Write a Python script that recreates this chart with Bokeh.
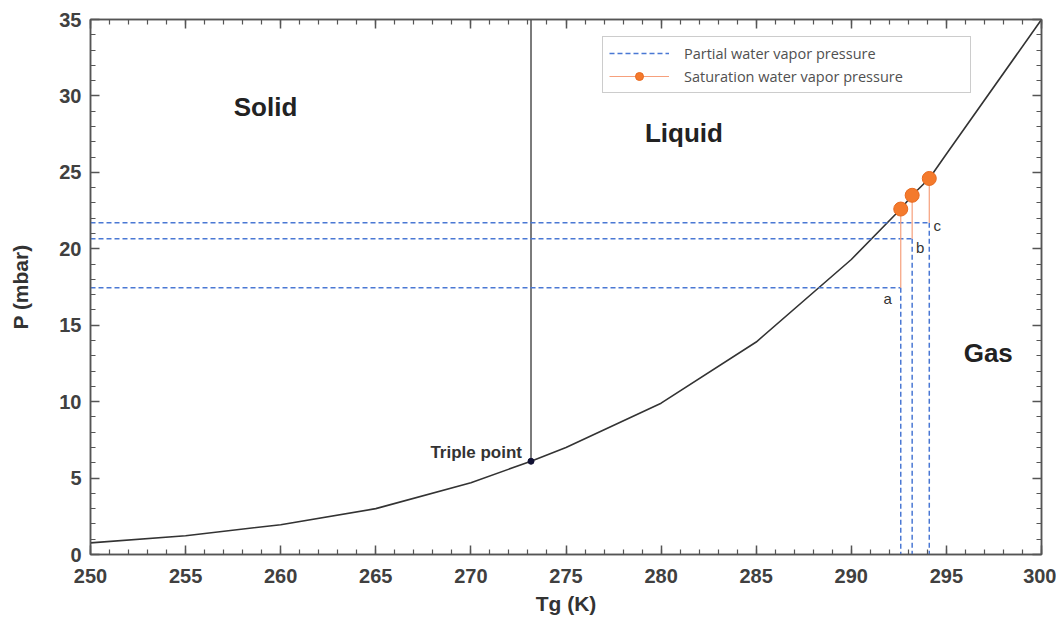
from bokeh.plotting import figure
from bokeh.models import (Range1d, SingleIntervalTicker, LinearAxis, Legend, LegendItem,
                          CustomLabelingPolicy)
from bokeh.core.properties import value
from bokeh.embed import file_html
from bokeh.resources import INLINE

# ---- data ----
X_MIN, X_MAX = 250, 300
Y_MIN, Y_MAX = 0, 35

curve_T = [250, 255, 260, 265, 270, 273.16, 275, 280, 285, 290, 292.6, 293.2, 294.1, 295, 300]
curve_P = [0.76, 1.23, 1.95, 3.0, 4.7, 6.1, 7.0, 9.9, 13.9, 19.3, 22.6, 23.5, 24.6, 26.2, 35.0]

triple_T = 273.16
triple_P = 6.1

case_labels = ["a", "b", "c"]
case_T = [292.6, 293.2, 294.1]
case_Pv = [17.45, 20.65, 21.7]    # partial water vapor pressure
case_Ps = [22.6, 23.5, 24.6]      # saturation water vapor pressure

region_labels = ["Solid", "Liquid", "Gas"]
region_T = [259.2, 281.2, 297.2]
region_P = [29.3, 27.6, 13.2]

FONT = "Liberation Sans"
TXT = "#222222"

p = figure(width=1056, height=621, output_backend="svg", toolbar_location=None,
           x_range=Range1d(X_MIN, X_MAX), y_range=Range1d(Y_MIN, Y_MAX),
           min_border_left=90, min_border_right=15, min_border_top=19, min_border_bottom=67)
p.background_fill_color = "white"
p.border_fill_color = "white"
p.outline_line_color = "#555555"
p.outline_line_width = 1.5
p.xgrid.visible = False
p.ygrid.visible = False

p.xaxis.ticker = SingleIntervalTicker(interval=5, num_minor_ticks=5)
p.yaxis.ticker = SingleIntervalTicker(interval=5, num_minor_ticks=5)

def style_axis(ax, labels=True):
    ax.axis_line_color = "#555555"
    ax.axis_line_width = 1.5
    ax.major_tick_line_color = "#555555"
    ax.minor_tick_line_color = "#555555"
    ax.major_tick_line_width = 1.5
    ax.minor_tick_line_width = 1.2
    ax.major_tick_in = 9
    ax.major_tick_out = 0
    ax.minor_tick_in = 5
    ax.minor_tick_out = 0
    if labels:
        ax.major_label_text_font = FONT
        ax.major_label_text_font_style = "bold"
        ax.major_label_text_font_size = "20px"
        ax.major_label_text_color = "#404040"
        ax.axis_label_text_font = FONT
        ax.axis_label_text_font_style = "bold"
        ax.axis_label_text_font_size = "21px"
        ax.axis_label_text_color = "#333333"
    else:
        ax.major_label_text_font_size = "0px"
        ax.major_label_standoff = 0
        ax.major_label_policy = CustomLabelingPolicy(
            code="const r = indices.clone(); for (const i of indices) { r.unset(i) } return r")

style_axis(p.xaxis[0])
style_axis(p.yaxis[0])
p.xaxis.axis_label = "Tg (K)"
p.yaxis.axis_label = "P (mbar)"
p.xaxis.major_label_standoff = 14
p.xaxis.axis_label_standoff = 6
p.yaxis.major_label_standoff = 9
p.yaxis.axis_label_standoff = 24

top_ax = LinearAxis(ticker=SingleIntervalTicker(interval=5, num_minor_ticks=5))
right_ax = LinearAxis(ticker=SingleIntervalTicker(interval=5, num_minor_ticks=5))
style_axis(top_ax, labels=False)
style_axis(right_ax, labels=False)
p.add_layout(top_ax, "above")
p.add_layout(right_ax, "right")

# saturation curve
p.line(curve_T, curve_P, line_color="#333333", line_width=1.6)
# solid-liquid boundary
p.segment(x0=[triple_T], y0=[triple_P], x1=[triple_T], y1=[Y_MAX],
          line_color="#444444", line_width=1.4)
p.scatter([triple_T], [triple_P], size=6, color="#111133")

# partial pressure dashed lines
BLUE = "#4a78d4"
h = p.segment(x0=[X_MIN] * len(case_T), y0=case_Pv, x1=case_T, y1=case_Pv,
              line_color=BLUE, line_width=1.5, line_dash="5 3")
p.segment(x0=case_T, y0=case_Pv, x1=case_T, y1=[Y_MIN] * len(case_T),
          line_color=BLUE, line_width=1.5, line_dash="5 3")

# saturation markers
ORANGE = "#f47a2c"
o_line = p.segment(x0=case_T, y0=case_Pv, x1=case_T, y1=case_Ps,
                   line_color="#f6a07c", line_width=1.2)
o_pts = p.scatter(case_T, case_Ps, size=14, fill_color=ORANGE, line_color="#e86a20", line_width=1)

# a b c labels
offsets = [(-13, 11), (8, 9), (8, 3)]
for i, lab in enumerate(case_labels):
    p.text([case_T[i]], [case_Pv[i]], text=[lab], text_font=value(FONT),
           text_font_size="15px", text_color="#333333", text_align="center",
           text_baseline="middle", x_offset=offsets[i][0], y_offset=offsets[i][1])

# triple point label
p.text([triple_T], [triple_P], text=["Triple point"], text_font=value(FONT),
       text_font_style="bold", text_font_size="17px", text_color="#333333",
       text_align="right", text_baseline="middle", x_offset=-9, y_offset=-9)

# region labels
p.text(region_T, region_P, text=region_labels, text_font=value(FONT),
       text_font_style="bold", text_font_size="26px", text_color=TXT,
       text_align="center", text_baseline="middle")

legend = Legend(items=[
    LegendItem(label="Partial water vapor pressure", renderers=[h]),
    LegendItem(label="Saturation water vapor pressure", renderers=[o_line, o_pts]),
], location=(512, 461))
legend.label_text_font = "Open Sans"
legend.label_text_font_size = "14.5px"
legend.label_text_color = "#505050"
legend.border_line_color = "#999999"
legend.border_line_width = 1
legend.background_fill_color = "white"
legend.padding = 6
legend.margin = 0
legend.spacing = 3
legend.glyph_width = 60
legend.glyph_height = 20
legend.label_standoff = 15
legend.label_width = 280
legend.label_height = 20
p.add_layout(legend, "center")

open("out.html", "w").write(file_html(p, INLINE))
